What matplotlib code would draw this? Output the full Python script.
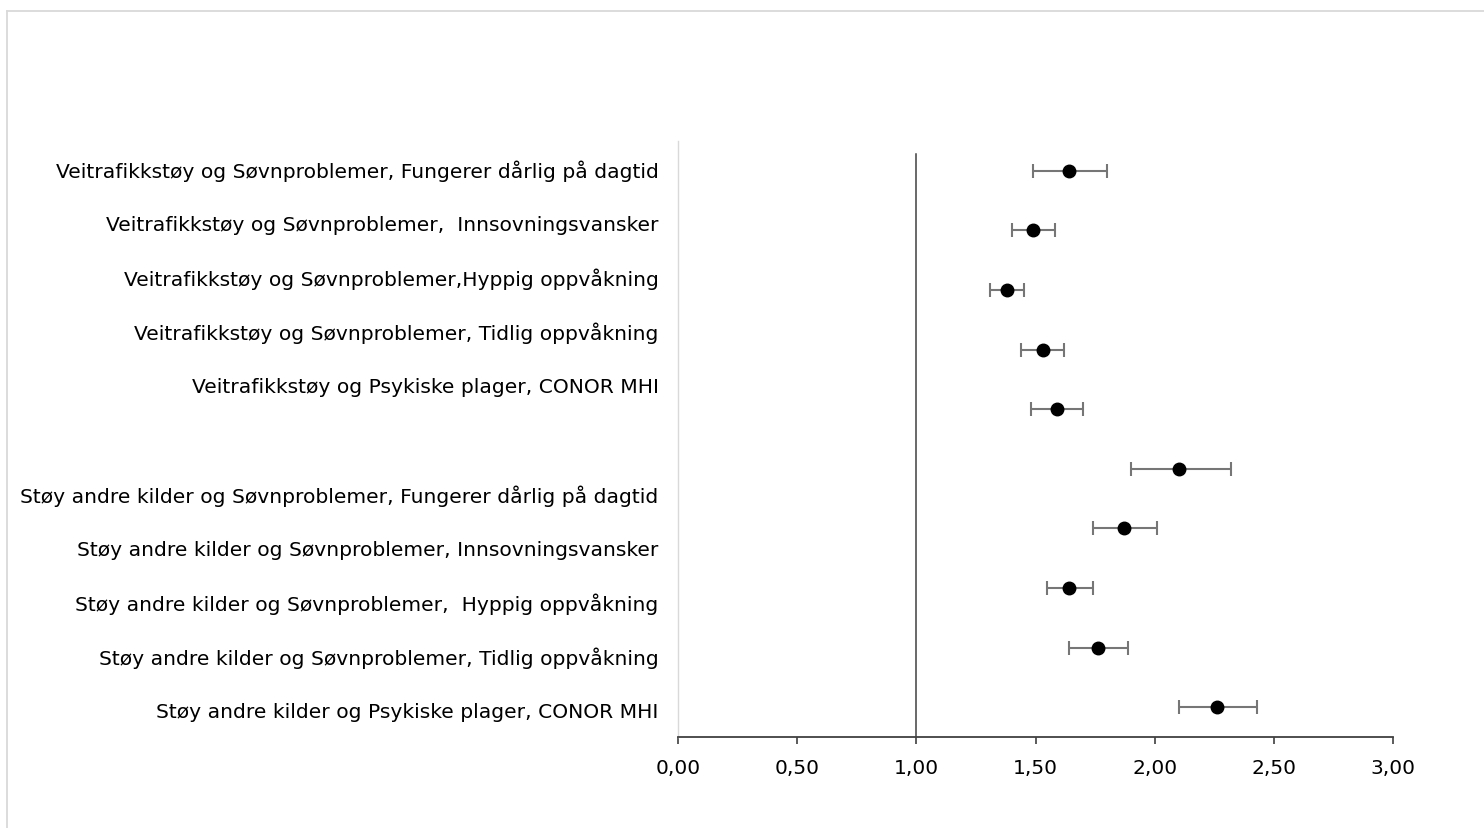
import numpy as np
import matplotlib.pyplot as plt
from matplotlib.lines import Line2D

# categories, top to bottom ("" = empty slot between the two groups)
labels = [
    "Veitrafikkstøy og Søvnproblemer, Fungerer dårlig på dagtid",
    "Veitrafikkstøy og Søvnproblemer,  Innsovningsvansker",
    "Veitrafikkstøy og Søvnproblemer,Hyppig oppvåkning",
    "Veitrafikkstøy og Søvnproblemer, Tidlig oppvåkning",
    "Veitrafikkstøy og Psykiske plager, CONOR MHI",
    "",
    "Støy andre kilder og Søvnproblemer, Fungerer dårlig på dagtid",
    "Støy andre kilder og Søvnproblemer, Innsovningsvansker",
    "Støy andre kilder og Søvnproblemer,  Hyppig oppvåkning",
    "Støy andre kilder og Søvnproblemer, Tidlig oppvåkning",
    "Støy andre kilder og Psykiske plager, CONOR MHI",
]

# estimates (top to bottom) with confidence limits
est = [1.64, 1.49, 1.38, 1.53, 1.59, 2.10, 1.87, 1.64, 1.76, 2.26]
lower = [1.49, 1.40, 1.31, 1.44, 1.48, 1.90, 1.74, 1.55, 1.64, 2.10]
upper = [1.80, 1.58, 1.45, 1.62, 1.70, 2.32, 2.01, 1.74, 1.89, 2.43]

xticks = [0.0, 0.5, 1.0, 1.5, 2.0, 2.5, 3.0]
ref_x = 1.0
ref_top = 9.78

fig = plt.figure(figsize=(14.84, 8.29), dpi=100)
ax = fig.add_axes([0.4569, 0.1098, 0.9387 - 0.4569, 0.8287 - 0.1098])

n = len(est)
ypos = n - 0.5 - np.arange(n)
est = np.array(est)
err = [est - np.array(lower), np.array(upper) - est]

ax.errorbar(est, ypos, xerr=err, fmt="o", color="black", ms=9,
            ecolor="#767676", elinewidth=1.5, capsize=5, capthick=1.5, zorder=3)
ax.plot([ref_x, ref_x], [0, ref_top], color="#404040", lw=1.1, zorder=2)

ax.set_xlim(0, 3)
ax.set_ylim(0, 10)
ax.set_xticks(xticks)
ax.set_xticklabels([f"{t:.2f}".replace(".", ",") for t in xticks],
                   fontsize=14.5, family="DejaVu Sans")
ax.tick_params(axis="x", direction="out", length=5, width=1.2, color="#404040", pad=10)
ax.set_yticks([])
for s in ["top", "right"]:
    ax.spines[s].set_visible(False)
ax.spines["bottom"].set_color("#404040")
ax.spines["bottom"].set_linewidth(1.3)
ax.spines["left"].set_color("#d9d9d9")
ax.spines["left"].set_linewidth(1.0)

# category labels on an 11-slot axis
ax2 = ax.twinx()
ax2.set_ylim(0, len(labels))
ax2.set_yticks(np.arange(len(labels)) + 0.5)
ax2.set_yticklabels(labels[::-1], fontsize=14.6, family="DejaVu Sans")
ax2.yaxis.tick_left()
ax2.tick_params(axis="y", length=0, pad=14)
for s in ax2.spines.values():
    s.set_visible(False)

# chart border
fig.add_artist(Line2D([7.5 / 1484, 7.5 / 1484], [0, 1 - 12 / 829], transform=fig.transFigure,
                      color="#d9d9d9", lw=1.3))
fig.add_artist(Line2D([7.5 / 1484, 1], [1 - 12 / 829, 1 - 12 / 829], transform=fig.transFigure,
                      color="#d9d9d9", lw=1.3))

fig.savefig("out.png", dpi=100)
